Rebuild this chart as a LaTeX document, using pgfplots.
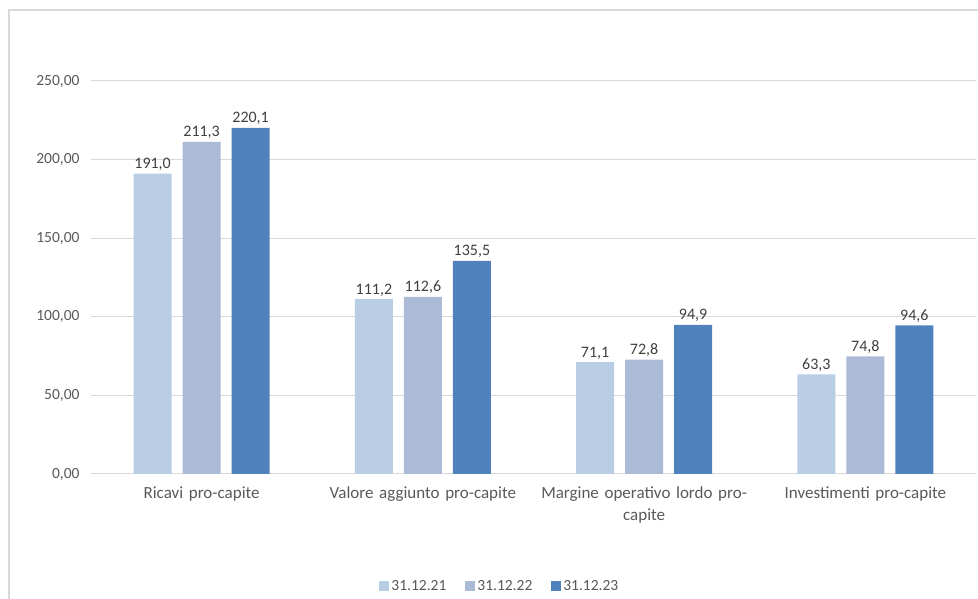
\documentclass[border=0pt]{standalone}
\usepackage{pgfplots}
\pgfplotsset{compat=1.18}
\usepackage{fontspec}
\setmainfont{Carlito}
\definecolor{cA}{RGB}{185,205,229}
\definecolor{cB}{RGB}{170,186,215}
\definecolor{cC}{RGB}{79,129,189}
\definecolor{gridc}{RGB}{217,217,217}
\definecolor{txt}{RGB}{89,89,89}
\definecolor{lbl}{RGB}{64,64,64}
\begin{document}
\begin{tikzpicture}[x=1bp,y=1bp]
\begin{axis}[
  at={(0,0)}, anchor=south west,
  scale only axis, width=885bp, height=393bp,
  xmin=-0.5, xmax=3.5, ymin=0, ymax=250,
  ybar=11bp, bar width=38bp,
  xtick={0,1,2,3},
  xticklabels={Ricavi pro-capite, Valore aggiunto pro-capite, {Margine operativo lordo pro-\\capite}, Investimenti pro-capite},
  xticklabel style={align=center, text width=225bp, font=\fontsize{17bp}{22bp}\selectfont, text=txt, yshift=-9bp},
  ytick={0,50,100,150,200,250},
  yticklabel style={font=\fontsize{15.5bp}{18bp}\selectfont, text=txt, xshift=-8bp},
  /pgf/number format/assume math mode=true,
  yticklabel={\pgfmathprintnumber[fixed,fixed zerofill,precision=2,use comma]{\tick}},
  major tick length=0pt,
  axis line style={draw=none},
  ymajorgrids, grid style={gridc, line width=1bp},
  nodes near coords={\pgfmathprintnumber[fixed,fixed zerofill,precision=1,use comma,assume math mode=true]{\pgfplotspointmeta}},
  nodes near coords style={font=\fontsize{16bp}{18bp}\selectfont, text=lbl, yshift=-0.5bp},
  legend columns=3,
  legend style={draw=none, at={(0.462,-0.285)}, anchor=center, font=\fontsize{15.5bp}{18bp}\selectfont, text=txt,
    /tikz/every even column/.append style={column sep=17bp}},
  legend image code/.code={\fill[#1] (0bp,-5bp) rectangle (10bp,5bp);},
]
\addplot[fill=cA, draw=none] coordinates {(0,191.0) (1,111.2) (2,71.1) (3,63.3)};
\addplot[fill=cB, draw=none] coordinates {(0,211.3) (1,112.6) (2,72.8) (3,74.8)};
\addplot[fill=cC, draw=none] coordinates {(0,220.1) (1,135.5) (2,94.9) (3,94.6)};
\legend{31.12.21, 31.12.22, 31.12.23}
\end{axis}
\draw[gridc, line width=1.5bp] (-82,-125) -- (-82,464) -- (887,464);
\pgfresetboundingbox
\path[use as bounding box] (-91,-125) rectangle (887,474);
\end{tikzpicture}
\end{document}
